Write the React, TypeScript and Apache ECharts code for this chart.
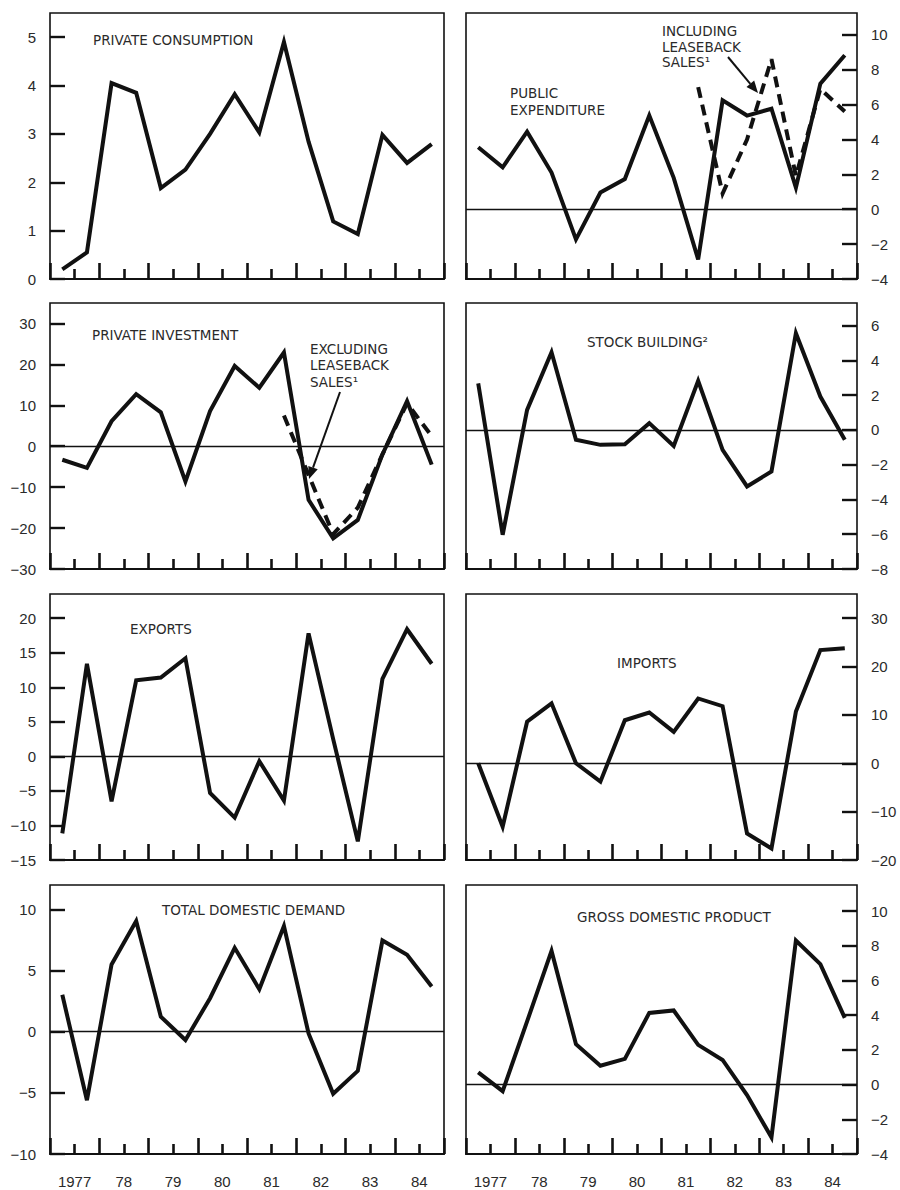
import React, { useEffect, useRef } from "react";
import * as echarts from "echarts";

// ---- data (half-yearly, 1977 H1 .. 1984 H2) ----
const years = ["1977", "78", "79", "80", "81", "82", "83", "84"];

const privateConsumption = [0.2, 0.55, 4.05, 3.85, 1.88, 2.26, 3.0, 3.82, 3.03, 4.9, 2.84, 1.19, 0.93, 2.98, 2.4, 2.79];
const publicExpenditure = [3.55, 2.4, 4.45, 2.1, -1.73, 0.96, 1.73, 5.37, 1.8, -2.88, 6.24, 5.37, 5.76, 1.24, 7.2, 8.83];
const publicInclLeaseback = [null, null, null, null, null, null, null, null, null, 7.0, 0.9, 4.0, 8.6, 1.9, 6.9, 5.6];
const privateInvestment = [-3.3, -5.3, 6.1, 12.7, 8.3, -8.6, 8.6, 19.6, 14.3, 22.9, -13.1, -22.5, -18, -2, 11.0, -4.5];
const privateInvExclLeaseback = [null, null, null, null, null, null, null, null, null, 7.5, -7, -21.5, -15, -2, 10.5, 2.5];
const stockBuilding = [2.68, -6.03, 1.15, 4.47, -0.57, -0.86, -0.82, 0.39, -0.92, 2.82, -1.15, -3.25, -2.39, 5.56, 1.92, -0.57];
const exportsData = [-11.15, 13.4, -6.5, 11.0, 11.4, 14.2, -5.3, -8.86, -0.7, -6.4, 17.8, 2.5, -12.3, 11.2, 18.4, 13.4];
const importsData = [0, -13.1, 8.6, 12.4, 0.0, -3.8, 8.9, 10.5, 6.5, 13.4, 11.8, -14.5, -17.6, 10.7, 23.4, 23.8];
const totalDomesticDemand = [3.02, -5.6, 5.5, 9.05, 1.23, -0.68, 2.74, 6.86, 3.48, 8.64, -0.14, -5.07, -3.2, 7.46, 6.3, 3.7];
const grossDomesticProduct = [0.7, -0.38, 3.64, 7.7, 2.33, 1.09, 1.48, 4.13, 4.27, 2.29, 1.42, -0.6, -3.04, 8.3, 6.94, 3.84];

// y-axis tick labels per panel
const ticksPC = [0, 1, 2, 3, 4, 5];
const ticksPE = [-4, -2, 0, 2, 4, 6, 8, 10];
const ticksPI = [-30, -20, -10, 0, 10, 20, 30];
const ticksSB = [-8, -6, -4, -2, 0, 2, 4, 6];
const ticksEX = [-15, -10, -5, 0, 5, 10, 15, 20];
const ticksIM = [-20, -10, 0, 10, 20, 30];
const ticksTDD = [-10, -5, 0, 5, 10];
const ticksGDP = [-4, -2, 0, 2, 4, 6, 8, 10];

const INK = "#111";
const TEXT = "#2a2a2a";
const NUM_FONT = '"Liberation Sans", Arial, sans-serif';
const TITLE_FONT = '"DejaVu Sans", "Noto Sans", sans-serif';

const COLS = [
  { left: 50, width: 394 },
  { left: 466, width: 391 },
];
const ROWS = [
  { top: 13, height: 266 },
  { top: 303, height: 266 },
  { top: 594, height: 266 },
  { top: 885, height: 269 },
];

type Panel = {
  row: number;
  col: number;
  data: number[];
  dashed?: (number | null)[];
  ticks: number[];
  min: number;
  max: number;
  interval: number;
  zeroLine: boolean;
};

const panels: Panel[] = [
  { row: 0, col: 0, data: privateConsumption, ticks: ticksPC, min: 0, max: 5.5, interval: 1, zeroLine: false },
  { row: 0, col: 1, data: publicExpenditure, dashed: publicInclLeaseback, ticks: ticksPE, min: -4, max: 11.25, interval: 2, zeroLine: true },
  { row: 1, col: 0, data: privateInvestment, dashed: privateInvExclLeaseback, ticks: ticksPI, min: -30, max: 35, interval: 10, zeroLine: true },
  { row: 1, col: 1, data: stockBuilding, ticks: ticksSB, min: -8, max: 7.3, interval: 2, zeroLine: true },
  { row: 2, col: 0, data: exportsData, ticks: ticksEX, min: -15, max: 23.5, interval: 5, zeroLine: true },
  { row: 2, col: 1, data: importsData, ticks: ticksIM, min: -20, max: 35, interval: 10, zeroLine: true },
  { row: 3, col: 0, data: totalDomesticDemand, ticks: ticksTDD, min: -10, max: 12, interval: 5, zeroLine: true },
  { row: 3, col: 1, data: grossDomesticProduct, ticks: ticksGDP, min: -4, max: 11.5, interval: 2, zeroLine: true },
];

const titleTexts: { text: string; x: number; y: number }[] = [
  { text: "PRIVATE CONSUMPTION", x: 93, y: 40 },
  { text: "PUBLIC", x: 510, y: 93 },
  { text: "EXPENDITURE", x: 510, y: 110 },
  { text: "INCLUDING", x: 662, y: 31 },
  { text: "LEASEBACK", x: 662, y: 46.5 },
  { text: "SALES\u00b9", x: 662, y: 62 },
  { text: "PRIVATE INVESTMENT", x: 92, y: 335 },
  { text: "EXCLUDING", x: 310, y: 349 },
  { text: "LEASEBACK", x: 310, y: 365 },
  { text: "SALES\u00b9", x: 310, y: 381.5 },
  { text: "STOCK BUILDING\u00b2", x: 587, y: 342 },
  { text: "EXPORTS", x: 130, y: 629 },
  { text: "IMPORTS", x: 617, y: 663 },
  { text: "TOTAL DOMESTIC DEMAND", x: 162, y: 910 },
  { text: "GROSS DOMESTIC PRODUCT", x: 577, y: 917 },
];

const fmt = (v: number) => (v < 0 ? "\u2212" + Math.abs(v) : String(v));

function arrow(x0: number, y0: number, x1: number, y1: number) {
  const dx = x1 - x0;
  const dy = y1 - y0;
  const L = Math.hypot(dx, dy);
  const ux = dx / L;
  const uy = dy / L;
  const hl = 12;
  const hw = 5;
  const bx = x1 - ux * hl;
  const by = y1 - uy * hl;
  return [
    { type: "line", silent: true, shape: { x1: x0, y1: y0, x2: bx, y2: by }, style: { stroke: INK, lineWidth: 2 } },
    {
      type: "polygon",
      silent: true,
      shape: { points: [[x1, y1], [bx - uy * hw, by + ux * hw], [bx + uy * hw, by - ux * hw]] },
      style: { fill: INK },
    },
  ];
}

function buildOption() {
  const grid: any[] = [];
  const xAxis: any[] = [];
  const yAxis: any[] = [];
  const series: any[] = [];

  panels.forEach((p, i) => {
    const c = COLS[p.col];
    const r = ROWS[p.row];
    grid.push({
      left: c.left,
      top: r.top,
      width: c.width,
      height: r.height,
      show: true,
      borderColor: INK,
      borderWidth: 1.6,
      backgroundColor: "transparent",
      containLabel: false,
    });
    const xValIndex = xAxis.length;
    xAxis.push({
      gridIndex: i,
      type: "value",
      min: 0,
      max: 16,
      interval: 2,
      position: "bottom",
      axisLine: { show: true, onZero: false, lineStyle: { color: INK, width: 2.2 } },
      axisTick: { show: true, inside: true, length: 16, lineStyle: { color: INK, width: 2.6 } },
      minorTick: { show: true, splitNumber: 2, length: 10, lineStyle: { color: INK, width: 2.6 } },
      axisLabel: { show: false },
      splitLine: { show: false },
      minorSplitLine: { show: false },
    });
    if (p.row === 3) {
      xAxis.push({
        gridIndex: i,
        type: "category",
        data: years,
        boundaryGap: true,
        position: "bottom",
        axisLine: { show: false, onZero: false },
        axisTick: { show: false },
        splitLine: { show: false },
        axisLabel: { show: true, interval: 0, margin: 20, fontFamily: NUM_FONT, fontSize: 15, color: TEXT },
      });
    }
    yAxis.push({
      gridIndex: i,
      type: "value",
      min: p.min,
      max: p.max,
      interval: p.interval,
      position: p.col === 0 ? "left" : "right",
      axisLine: { show: false, onZero: false },
      splitLine: { show: false },
      axisTick: {
        show: true,
        inside: true,
        length: 15,
        customValues: p.ticks,
        lineStyle: { color: INK, width: 2.4 },
      },
      axisLabel: {
        show: true,
        margin: 14,
        customValues: p.ticks,
        fontFamily: NUM_FONT,
        fontSize: 15,
        color: TEXT,
        formatter: fmt,
      },
    });
    const pts = p.data.map((v, k) => [k + 0.5, v]);
    series.push({
      type: "line",
      xAxisIndex: xValIndex,
      yAxisIndex: i,
      data: pts,
      symbol: "none",
      silent: true,
      lineStyle: { color: INK, width: 4, join: "miter" },
      markLine: p.zeroLine
        ? {
            silent: true,
            symbol: ["none", "none"],
            label: { show: false },
            lineStyle: { color: INK, width: 1.3, type: "solid" },
            data: [{ yAxis: 0 }],
          }
        : undefined,
      z: 3,
    });
    if (p.dashed) {
      const dpts = p.dashed
        .map((v, k) => (v == null ? null : [k + 0.5, v]))
        .filter((d) => d !== null);
      series.push({
        type: "line",
        xAxisIndex: xValIndex,
        yAxisIndex: i,
        data: dpts,
        symbol: "none",
        silent: true,
        lineStyle: { color: INK, width: 4, type: [11, 7], join: "miter" },
        z: 4,
      });
    }
  });

  const graphic: any[] = [];
  titleTexts.forEach((t) => {
    graphic.push({
      type: "text",
      silent: true,
      x: t.x,
      y: t.y,
      style: {
        text: t.text,
        fill: TEXT,
        font: `13.5px ${TITLE_FONT}`,
        textAlign: "left",
        textVerticalAlign: "middle",
        align: "left",
        verticalAlign: "middle",
      },
    });
  });
  graphic.push(...arrow(728, 57, 758, 93));
  graphic.push(...arrow(340, 392, 309, 479));

  return {
    animation: false,
    backgroundColor: "#ffffff",
    grid,
    xAxis,
    yAxis,
    series,
    graphic,
  };
}

export default function App() {
  const ref = useRef<HTMLDivElement | null>(null);
  useEffect(() => {
    if (!ref.current) return;
    const chart = echarts.init(ref.current, undefined, { renderer: "svg" });
    chart.setOption(buildOption() as any);
    return () => {
      chart.dispose();
    };
  }, []);
  return (
    <div
      ref={ref}
      style={{ position: "absolute", left: 0, top: 0, width: 900, height: 1190, background: "#fff" }}
    />
  );
}
